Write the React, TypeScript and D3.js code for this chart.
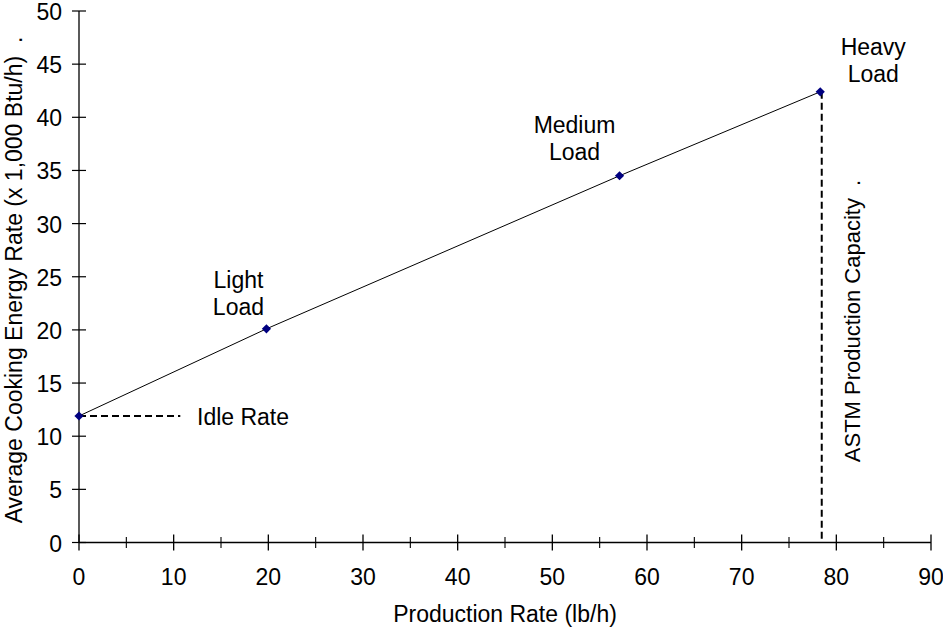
import React from "react";
import * as d3 from "d3";

const productionRate = [0, 19.8, 57.1, 78.3];
const energyRate = [11.9, 20.1, 34.5, 42.4];
const loadLabels = [["Light", "Load"], ["Medium", "Load"], ["Heavy", "Load"]];
const xTicks = [0, 10, 20, 30, 40, 50, 60, 70, 80, 90];
const xMinorTicks = [5, 15, 25, 35, 45, 55, 65, 75, 85];
const yTicks = [0, 5, 10, 15, 20, 25, 30, 35, 40, 45, 50];
const idleEndX = 10.7;
const xTitle = "Production Rate (lb/h)";
const yTitle = "Average Cooking Energy Rate (x 1,000 Btu/h)  .";
const capacityTitle = "ASTM Production Capacity  .";
const idleTitle = "Idle Rate";

// label offsets (px) relative to the labelled point: [dx of center, dy of first baseline]
const labelOffsets = [[-28, -41], [-45, -42.5], [53, -36.5]];

const W = 943;
const H = 627;
const FONT = "Liberation Sans, Arial, Helvetica, sans-serif";
const FS = 23;

export default function App() {
  const x = d3.scaleLinear().domain([0, 90]).range([79, 931]);
  const y = d3.scaleLinear().domain([0, 50]).range([542.5, 11]);
  const pts = productionRate.map((p, i) => [x(p), y(energyRate[i])] as [number, number]);
  const line = d3.line()(pts) || "";
  const r = 4.6;
  const diamond = `M0,${-r}L${r},0L0,${r}L${-r},0Z`;
  const y0 = y(0);
  const heavy = pts[3];
  const idle = pts[0];

  return (
    <svg
      width={W}
      height={H}
      style={{ position: "absolute", left: 0, top: 0, background: "#fff" }}
      fontFamily={FONT}
      fontSize={FS}
    >
      <rect x={0} y={0} width={W} height={H} fill="#fff" />
      {/* y axis */}
      <line x1={x(0)} x2={x(0)} y1={y(50)} y2={y0} stroke="#000" strokeWidth={1.3} />
      {yTicks.map((t) => (
        <g key={"yt" + t}>
          <line x1={x(0) - 7} x2={x(0) + 7} y1={y(t)} y2={y(t)} stroke="#000" strokeWidth={1.2} />
          <text x={62} y={y(t) + 9} textAnchor="end" fill="#000">
            {t}
          </text>
        </g>
      ))}
      {/* x axis */}
      <line x1={x(0)} x2={x(90)} y1={y0} y2={y0} stroke="#000" strokeWidth={1.3} />
      {xTicks.map((t) => (
        <g key={"xt" + t}>
          <line x1={x(t)} x2={x(t)} y1={y0 - 8} y2={y0 + 8} stroke="#000" strokeWidth={1.3} />
          <text x={x(t)} y={584.5} textAnchor="middle" fill="#000">
            {t}
          </text>
        </g>
      ))}
      {xMinorTicks.map((t) => (
        <line key={"xm" + t} x1={x(t)} x2={x(t)} y1={y0 - 5.5} y2={y0 + 5.5} stroke="#000" strokeWidth={1.1} />
      ))}
      {/* titles */}
      <text x={x(45)} y={622} textAnchor="middle" fill="#000">
        {xTitle}
      </text>
      <text
        transform={`translate(22, 280) rotate(-90)`}
        textAnchor="middle"
        fill="#000"
        style={{ whiteSpace: "pre" }}
      >
        {yTitle}
      </text>
      {/* dashed reference lines */}
      <line
        x1={idle[0]}
        x2={x(idleEndX)}
        y1={idle[1]}
        y2={idle[1]}
        stroke="#000"
        strokeWidth={2}
        strokeDasharray="7,4"
      />
      <line
        x1={heavy[0] + 1.5}
        x2={heavy[0] + 1.5}
        y1={heavy[1]}
        y2={y0}
        stroke="#000"
        strokeWidth={2}
        strokeDasharray="7,4"
      />
      <text x={197} y={idle[1] + 9} fill="#000">
        {idleTitle}
      </text>
      <text
        transform={`translate(${heavy[0] + 39.5}, 321) rotate(-90)`}
        textAnchor="middle"
        fill="#000"
        fontSize={22}
        style={{ whiteSpace: "pre" }}
      >
        {capacityTitle}
      </text>
      {/* series line */}
      <path d={line} fill="none" stroke="#000" strokeWidth={1} />
      {pts.map((p, i) => (
        <path key={"pt" + i} d={diamond} transform={`translate(${p[0]},${p[1]})`} fill="#000080" />
      ))}
      {/* load labels */}
      {loadLabels.map((lbl, i) => {
        const p = pts[i + 1];
        const [dx, dy] = labelOffsets[i];
        return (
          <text key={"lbl" + i} textAnchor="middle" fill="#000">
            {lbl.map((s, j) => (
              <tspan key={j} x={p[0] + dx} y={p[1] + dy + j * 27}>
                {s}
              </tspan>
            ))}
          </text>
        );
      })}
    </svg>
  );
}
